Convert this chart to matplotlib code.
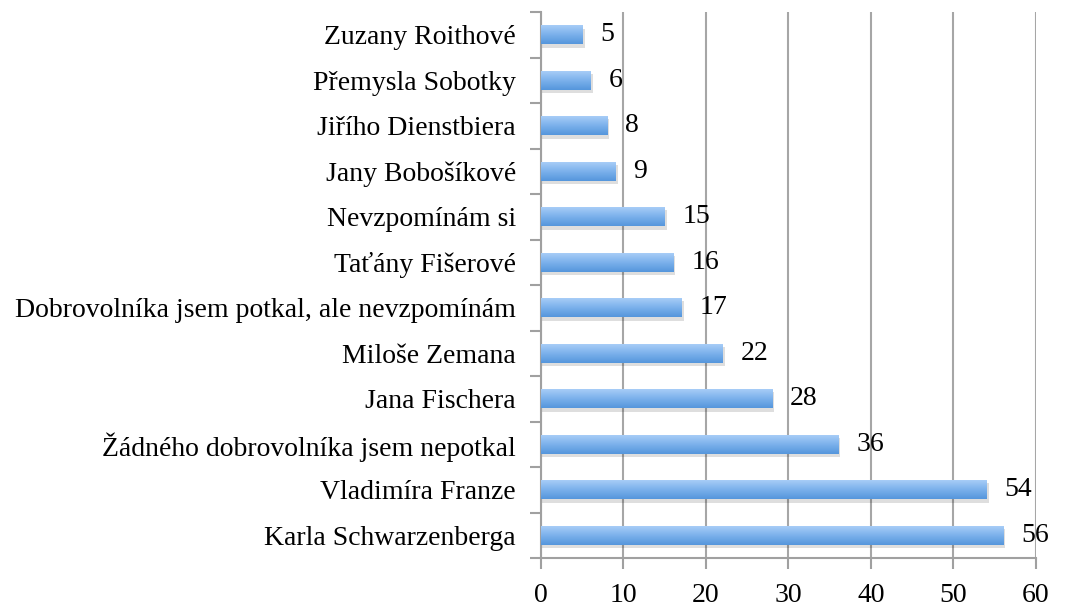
import matplotlib.pyplot as plt
import numpy as np
from matplotlib.colors import LinearSegmentedColormap

# data (top to bottom as in the picture)
kategorie = ["Zuzany Roithové", "Přemysla Sobotky", "Jiřího Dienstbiera",
             "Jany Bobošíkové", "Nevzpomínám si", "Taťány Fišerové",
             "Dobrovolníka jsem potkal, ale nevzpomínám", "Miloše Zemana",
             "Jana Fischera", "Žádného dobrovolníka jsem nepotkal",
             "Vladimíra Franze", "Karla Schwarzenberga"]
hodnoty = [5, 6, 8, 9, 15, 16, 17, 22, 28, 36, 54, 56]
x_ticks = [0, 10, 20, 30, 40, 50, 60]

plt.rcParams['font.family'] = ['Liberation Serif', 'DejaVu Serif']
fs = 20

fig = plt.figure(figsize=(10.83, 6.07), dpi=100)
ax = fig.add_axes([0.4995, 0.0807, 0.4571, 0.8993])

n = len(kategorie)
y = np.arange(n)[::-1]
h = 0.42

# gradient albastru
cmap = LinearSegmentedColormap.from_list("modru", ["#5596dc", "#7db2ec", "#acd0f8"])
grad = np.linspace(0, 1, 100).reshape(-1, 1)

for yi, v in zip(y, hodnoty):
    # umbra
    ax.barh(yi - 0.07, v + 0.3, height=h, left=0.0, color="#000000", alpha=0.13,
            zorder=2, linewidth=0)
    bar = ax.barh(yi, v, height=h, color="none", zorder=3, linewidth=0)[0]
    im = ax.imshow(grad, cmap=cmap, aspect="auto", origin="lower",
                   extent=[0, v, yi - h / 2, yi + h / 2], zorder=3)
    im.set_clip_path(bar)
    ax.text(v + 2.2, yi, str(v), va="center", ha="left", fontsize=fs, zorder=4)

ax.set_xlim(0, 60)
ax.set_ylim(-0.5, n - 0.5)
ax.set_xticks(x_ticks)
ax.set_xticklabels([str(t) for t in x_ticks], fontsize=fs)
ax.set_yticks(y)
ax.set_yticklabels(kategorie, fontsize=fs)
ax.set_yticks(np.arange(-0.5, n, 1.0), minor=True)

ax.tick_params(axis="y", which="major", length=0, pad=18)
ax.tick_params(axis="y", which="minor", length=8, color="#a0a0a0", width=1.5, direction="out")
ax.tick_params(axis="x", length=8, color="#a0a0a0", width=1.5, pad=10)

ax.grid(axis="x", color="#a6a6a6", linewidth=1.5, zorder=0)
ax.set_axisbelow(True)
for s in ["top", "right"]:
    ax.spines[s].set_visible(False)
for s in ["left", "bottom"]:
    ax.spines[s].set_color("#a0a0a0")
    ax.spines[s].set_linewidth(1.5)

fig.savefig("out.png", dpi=100)
